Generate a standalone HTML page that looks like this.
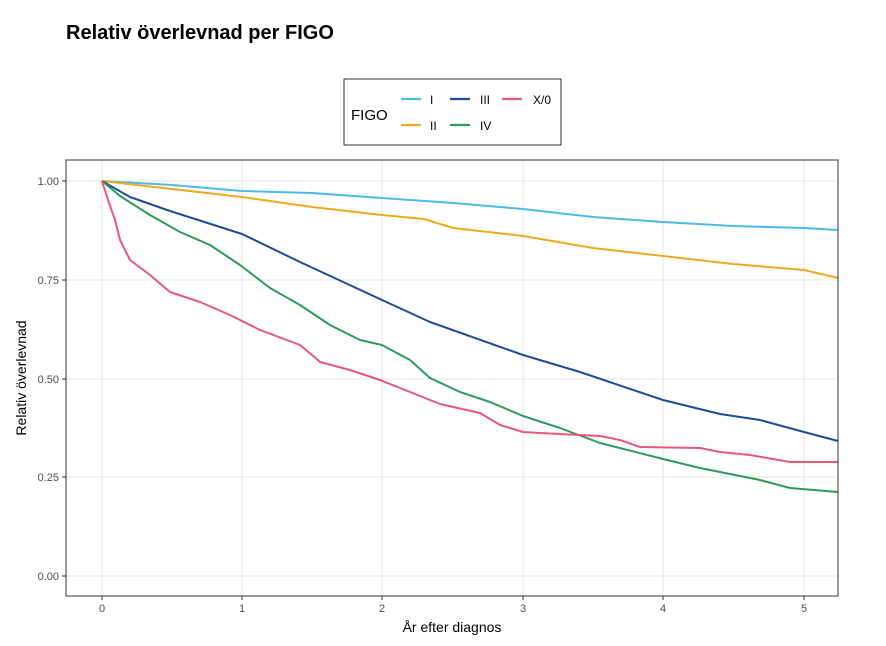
<!DOCTYPE html><html><head><style>body{margin:0;background:#fff}svg{display:block;font-family:"Liberation Sans",sans-serif}</style></head><body>
<svg width="886" height="646" xmlns="http://www.w3.org/2000/svg">
<text x="66" y="39" font-size="20" font-weight="bold">Relativ överlevnad per FIGO</text>
<rect x="344" y="79" width="217" height="66" fill="#fff" stroke="#333" stroke-width="1"/>
<text x="351" y="120" font-size="15">FIGO</text>
<g stroke-width="2.2"><line x1="401" y1="99" x2="421" y2="99" stroke="#4DBBEA"/><line x1="450" y1="99" x2="470" y2="99" stroke="#1F4B99"/><line x1="502" y1="99" x2="522" y2="99" stroke="#E8587A"/><line x1="401" y1="125" x2="421" y2="125" stroke="#F0A91C"/><line x1="450" y1="125" x2="470" y2="125" stroke="#2E9A5B"/></g>
<g font-size="12"><text x="430" y="104">I</text><text x="480" y="104">III</text><text x="533" y="104">X/0</text><text x="430" y="130">II</text><text x="480" y="130">IV</text></g>
<g stroke="#e6e6e6" stroke-width="1"><line x1="66" x2="838" y1="576" y2="576"/><line x1="66" x2="838" y1="477" y2="477"/><line x1="66" x2="838" y1="379" y2="379"/><line x1="66" x2="838" y1="280" y2="280"/><line x1="66" x2="838" y1="181" y2="181"/>
<line y1="160" y2="596" x1="102" x2="102"/><line y1="160" y2="596" x1="242" x2="242"/><line y1="160" y2="596" x1="382" x2="382"/><line y1="160" y2="596" x1="523" x2="523"/><line y1="160" y2="596" x1="663" x2="663"/><line y1="160" y2="596" x1="804" x2="804"/></g>
<g fill="none" stroke-width="2" stroke-linejoin="round">
<polyline stroke="#4DBBEA" points="102,181 172,185 242,191 312,193 382,198 453,203 523,209 593,217 663,222 733,226 804,228 838,230"/>
<polyline stroke="#F0A91C" points="102,181 172,189 242,197 312,207 382,215 424,219 453,228 523,236 593,248 663,256 733,264 804,270 838,278"/>
<polyline stroke="#1F4B99" points="102,181 130,197 170,211 242,234 300,262 382,300 430,322 523,355 580,372 663,400 720,414 760,420 804,432 838,441"/>
<polyline stroke="#2E9A5B" points="102,181 120,196 150,215 180,232 210,245 240,265 270,288 300,305 330,325 360,340 382,345 410,360 430,378 460,392 490,402 523,416 560,428 600,443 663,459 700,468 760,480 790,488 838,492"/>
<polyline stroke="#E8587A" points="102,181 108,200 115,220 120,240 130,260 150,275 170,292 200,302 230,315 260,330 300,345 312,355 320,362 350,370 380,380 410,392 440,404 480,413 500,425 523,432 540,433 600,436 620,440 640,447 700,448 720,452 750,455 790,462 838,462"/>
</g>
<rect x="66" y="160" width="772" height="436" fill="none" stroke="#333" stroke-width="1"/>
<g font-size="11" fill="#4d4d4d" text-anchor="end"><text x="59" y="580">0.00</text><text x="59" y="481">0.25</text><text x="59" y="383">0.50</text><text x="59" y="284">0.75</text><text x="59" y="185">1.00</text></g>
<g stroke="#333"><line x1="62" x2="66" y1="576" y2="576"/><line x1="62" x2="66" y1="477" y2="477"/><line x1="62" x2="66" y1="379" y2="379"/><line x1="62" x2="66" y1="280" y2="280"/><line x1="62" x2="66" y1="181" y2="181"/>
<line y1="596" y2="600" x1="102" x2="102"/><line y1="596" y2="600" x1="242" x2="242"/><line y1="596" y2="600" x1="382" x2="382"/><line y1="596" y2="600" x1="523" x2="523"/><line y1="596" y2="600" x1="663" x2="663"/><line y1="596" y2="600" x1="804" x2="804"/></g>
<g font-size="11" fill="#4d4d4d" text-anchor="middle"><text x="102" y="612">0</text><text x="242" y="612">1</text><text x="382" y="612">2</text><text x="523" y="612">3</text><text x="663" y="612">4</text><text x="804" y="612">5</text></g>
<text x="452" y="632" font-size="14" text-anchor="middle">År efter diagnos</text>
<text transform="translate(26,378) rotate(-90)" font-size="14" text-anchor="middle">Relativ överlevnad</text>
</svg></body></html>
